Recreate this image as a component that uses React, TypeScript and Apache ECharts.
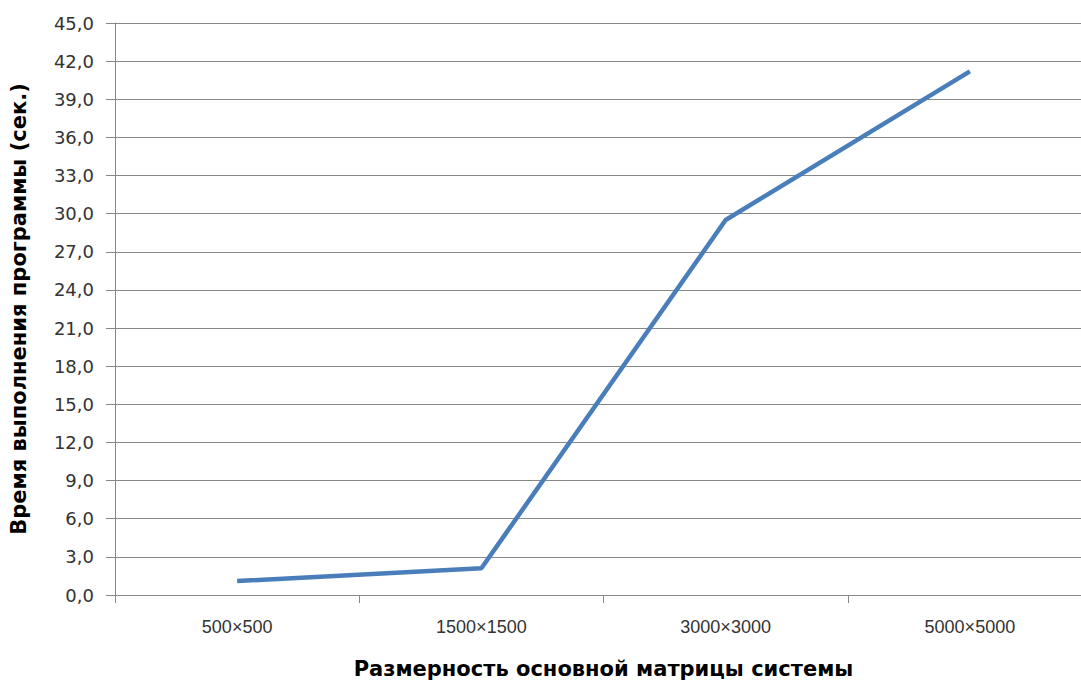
import React, { useEffect, useRef } from "react";
import * as echarts from "echarts";

const categories = ["500×500", "1500×1500", "3000×3000", "5000×5000"];
const times = [1.1, 2.1, 29.5, 41.2];
const yMin = 0;
const yMax = 45;
const yStep = 3;

export default function App() {
  const ref = useRef<HTMLDivElement>(null);

  useEffect(() => {
    if (!ref.current) return;
    const chart = echarts.init(ref.current, null, { renderer: "svg" });
    chart.setOption({
      animation: false,
      backgroundColor: "#ffffff",
      grid: { left: 114, top: 23, bottom: 88, right: 3 },
      xAxis: {
        type: "category",
        data: categories,
        boundaryGap: true,
        name: "Размерность основной матрицы системы",
        nameLocation: "middle",
        nameGap: 63,
        nameTextStyle: {
          fontFamily: "DejaVu Sans",
          fontWeight: "bold",
          fontSize: 21,
          color: "#000",
        },
        axisLine: { lineStyle: { color: "#888888", width: 1 } },
        axisTick: { show: true, length: 8, lineStyle: { color: "#888888" } },
        axisLabel: {
          margin: 23,
          fontFamily: "Liberation Sans",
          fontSize: 18,
          color: "#333",
        },
        splitLine: { show: false },
      },
      yAxis: {
        type: "value",
        min: yMin,
        max: yMax,
        interval: yStep,
        name: "Время выполнения программы (сек.)",
        nameLocation: "middle",
        nameGap: 86,
        nameTextStyle: {
          fontFamily: "DejaVu Sans",
          fontWeight: "bold",
          fontSize: 21,
          color: "#000",
        },
        axisLine: { show: true, lineStyle: { color: "#888888", width: 1 } },
        axisTick: { show: true, length: 9, lineStyle: { color: "#888888" } },
        axisLabel: {
          margin: 21,
          fontFamily: "DejaVu Sans",
          fontSize: 18,
          color: "#333",
          formatter: (v: number) => v.toFixed(1).replace(".", ","),
        },
        splitLine: { show: true, lineStyle: { color: "#888888", width: 1 } },
      },
      series: [
        {
          type: "line",
          data: times,
          showSymbol: false,
          symbol: "none",
          lineStyle: { color: "#4a7ebb", width: 4.5 },
        },
      ],
    });
    return () => chart.dispose();
  }, []);

  return (
    <div
      ref={ref}
      style={{ position: "fixed", left: 0, top: 0, width: 1095, height: 684 }}
    />
  );
}
